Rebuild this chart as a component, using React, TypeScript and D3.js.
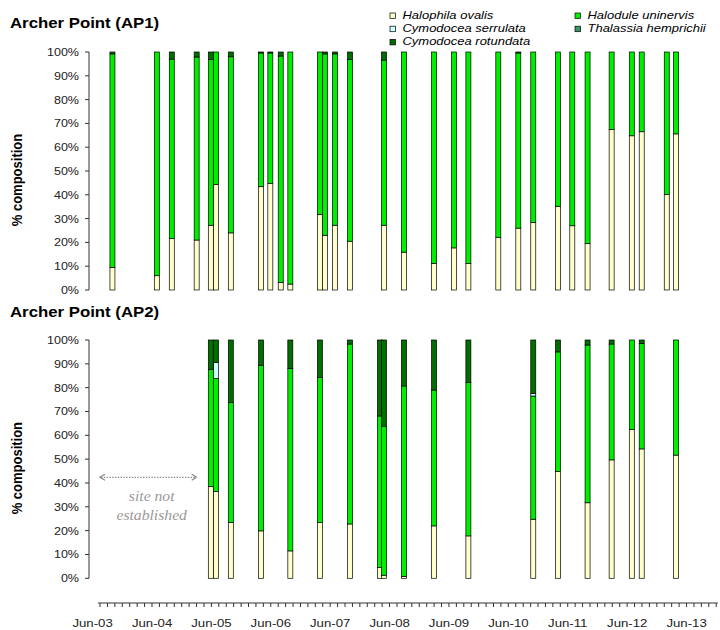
import React from "react";
import * as d3 from "d3";

// Species, stacked bottom to top
const speciesKeys = ["ovalis", "uninervis", "serrulata", "thalassia", "rotundata"];
const speciesNames: Record<string, string> = {
  ovalis: "Halophila ovalis",
  uninervis: "Halodule uninervis",
  serrulata: "Cymodocea serrulata",
  thalassia: "Thalassia hemprichii",
  rotundata: "Cymodocea rotundata",
};
const speciesColors: Record<string, string> = {
  ovalis: "#FFFFCC",
  uninervis: "#00EE00",
  serrulata: "#CCFFFF",
  thalassia: "#339966",
  rotundata: "#006E00",
};

// Archer Point (AP1)
const ap1Dates = [
  "2003-10-01", "2004-06-30", "2004-09-30", "2005-03-02", "2005-05-28", "2005-06-29",
  "2005-09-28", "2006-04-02", "2006-05-29", "2006-08-01", "2006-09-29", "2007-03-30",
  "2007-04-30", "2007-07-01", "2007-10-01", "2008-04-27", "2008-08-28", "2009-03-01",
  "2009-07-02", "2009-09-28", "2010-03-31", "2010-08-01", "2010-11-01", "2011-04-02",
  "2011-06-29", "2011-10-01", "2012-02-26", "2012-06-29", "2012-08-29", "2013-01-30",
  "2013-03-28",
];
const ap1Ovalis = [9.5, 6, 21.6, 21, 27.2, 44.4, 24, 43.4, 44.7, 3.2, 2.5, 31.8, 23, 27.2, 20.5, 27.2, 15.9, 11.2, 17.7, 11.2, 22, 26, 28.4, 35.2, 27, 19.6, 67.5, 64.8, 66.5, 40.2, 65.6];
const ap1Uninervis = [89.7, 94, 75.4, 76.9, 69.6, 55.6, 74, 56.2, 54.9, 95.1, 97.5, 68.2, 76.2, 72, 76.4, 69.4, 84.1, 88.8, 82.3, 88.8, 78, 73.6, 71.6, 64.8, 73, 80.4, 32.5, 35.2, 33.5, 59.8, 34.4];
const ap1Serrulata = [0, 0, 0, 0, 0, 0, 0, 0, 0, 0, 0, 0, 0, 0, 0, 0, 0, 0, 0, 0, 0, 0, 0, 0, 0, 0, 0, 0, 0, 0, 0];
const ap1Thalassia = [0, 0, 0, 0, 0, 0, 0, 0, 0, 0, 0, 0, 0, 0, 0, 0, 0, 0, 0, 0, 0, 0, 0, 0, 0, 0, 0, 0, 0, 0, 0];
const ap1Rotundata = [0.8, 0, 3, 2.1, 3.2, 0, 2, 0.4, 0.4, 1.7, 0, 0, 0.8, 0.8, 3.1, 3.4, 0, 0, 0, 0, 0, 0.4, 0, 0, 0, 0, 0, 0, 0, 0, 0];

// Archer Point (AP2)
const ap2Dates = [
  "2005-05-28", "2005-06-29", "2005-09-28", "2006-04-02", "2006-09-29", "2007-03-30",
  "2007-10-01", "2008-04-02", "2008-04-27", "2008-08-28", "2009-03-01", "2009-09-28",
  "2010-11-01", "2011-04-02", "2011-10-01", "2012-02-26", "2012-06-29", "2012-08-29",
  "2013-03-28",
];
const ap2Ovalis = [38.5, 36.4, 23.4, 19.9, 11.5, 23.4, 22.8, 4.6, 1.3, 0.8, 22, 17.8, 24.8, 44.8, 31.7, 49.7, 62.5, 54.3, 51.7];
const ap2Uninervis = [49.2, 47.5, 50.4, 69.5, 76.6, 60.9, 75.5, 63.5, 62.5, 79.9, 57, 64.4, 51.7, 50.2, 66.2, 48.6, 37.5, 44.3, 48.3];
const ap2Serrulata = [0, 6.6, 0, 0, 0, 0, 0, 0, 0, 0, 0, 0, 1.1, 0, 0, 0, 0, 0, 0];
const ap2Thalassia = [0, 0, 0, 0, 0, 0, 0, 0, 0, 0, 0, 0, 0, 0, 0, 0, 0, 0, 0];
const ap2Rotundata = [12.3, 9.5, 26.2, 10.6, 11.9, 15.7, 1.7, 31.9, 36.2, 19.3, 21, 17.8, 22.4, 5, 2.1, 1.7, 0, 1.4, 0];

// Axis labels
const yTickValues = [0, 10, 20, 30, 40, 50, 60, 70, 80, 90, 100];
const xLabelYears = [2003, 2004, 2005, 2006, 2007, 2008, 2009, 2010, 2011, 2012, 2013];

const parseDate = d3.timeParse("%Y-%m-%d");
const W = 720;
const H = 630;
const SX = 1.12; // horizontal text stretch
const SANS = "'Liberation Sans', Arial, Helvetica, sans-serif";

type Row = { date: Date; [k: string]: any };

function buildRows(dates: string[], series: Record<string, number[]>): Row[] {
  return dates.map((ds, i) => {
    const r: Row = { date: parseDate(ds) as Date };
    speciesKeys.forEach((k) => (r[k] = series[k][i]));
    return r;
  });
}

const ap1Rows = buildRows(ap1Dates, {
  ovalis: ap1Ovalis, uninervis: ap1Uninervis, serrulata: ap1Serrulata,
  thalassia: ap1Thalassia, rotundata: ap1Rotundata,
});
const ap2Rows = buildRows(ap2Dates, {
  ovalis: ap2Ovalis, uninervis: ap2Uninervis, serrulata: ap2Serrulata,
  thalassia: ap2Thalassia, rotundata: ap2Rotundata,
});

const x = d3
  .scaleTime()
  .domain([new Date(2003, 5, 1), new Date(2013, 5, 1)])
  .range([92.6, 686.6]);

const AXIS_X = 89;
const BAR_W = 5;

function STxt(props: {
  x: number; y: number; children: React.ReactNode; anchor?: string;
  size: number; weight?: string; italic?: boolean; fill?: string; family?: string; rotate?: number;
}) {
  const { x: tx, y: ty, children, anchor = "start", size, weight = "normal", italic, fill = "#000", family = SANS, rotate } = props;
  const tr = `translate(${tx},${ty}) scale(${SX},1)${rotate ? ` rotate(${rotate})` : ""}`;
  return (
    <text
      transform={tr}
      textAnchor={anchor}
      fontSize={size}
      fontWeight={weight}
      fontStyle={italic ? "italic" : "normal"}
      fontFamily={family}
      fill={fill}
    >
      {children}
    </text>
  );
}

function Panel(props: { rows: Row[]; top: number; bottom: number; title: string; titleY: number }) {
  const { rows, top, bottom, title, titleY } = props;
  const y = d3.scaleLinear().domain([0, 100]).range([bottom, top]);
  const stacked = d3.stack<Row>().keys(speciesKeys)(rows);
  return (
    <g>
      <STxt x={10} y={titleY} size={15} weight="bold">{title}</STxt>
      <STxt x={22} y={(top + bottom) / 2 + 9} size={13} weight="bold" anchor="middle" rotate={-90}>
        % composition
      </STxt>
      <line x1={AXIS_X} x2={AXIS_X} y1={y(0)} y2={y(100)} stroke="#333" strokeWidth={1} />
      {yTickValues.map((t) => (
        <g key={t}>
          <line x1={AXIS_X - 4} x2={AXIS_X} y1={y(t)} y2={y(t)} stroke="#333" strokeWidth={1} />
          <STxt x={79} y={y(t) + 4} size={11.2} anchor="end" fill="#222">{`${t}%`}</STxt>
        </g>
      ))}
      {stacked.map((s) => (
        <g key={s.key} fill={speciesColors[s.key]}>
          {s.map((d, i) => {
            const h = y(d[0]) - y(d[1]);
            if (h <= 0) return null;
            return (
              <rect
                key={i}
                x={x(d.data.date) - BAR_W / 2}
                y={y(d[1])}
                width={BAR_W}
                height={h}
                stroke="#000"
                strokeWidth={0.7}
              />
            );
          })}
        </g>
      ))}
    </g>
  );
}

function Legend() {
  const items = [
    { k: "ovalis", col: 0, row: 0 },
    { k: "uninervis", col: 1, row: 0 },
    { k: "serrulata", col: 0, row: 1 },
    { k: "thalassia", col: 1, row: 1 },
    { k: "rotundata", col: 0, row: 2 },
  ];
  const colX = [390, 575];
  const rowY = [19, 32.2, 45.4];
  return (
    <g>
      {items.map((it) => (
        <g key={it.k}>
          <rect
            x={colX[it.col]}
            y={rowY[it.row] - 6}
            width={5.5}
            height={5.5}
            fill={speciesColors[it.k]}
            stroke="#000"
            strokeWidth={0.7}
          />
          <STxt x={colX[it.col] + 12.5} y={rowY[it.row]} size={11.6} italic>
            {speciesNames[it.k]}
          </STxt>
        </g>
      ))}
    </g>
  );
}

function XAxis() {
  const axisY = 603;
  const start = new Date(2003, 6, 4);
  const end = new Date(2013, 11, 10);
  const base = new Date(2003, 5, 1).getTime();
  const step = (365.25 / 8) * 24 * 3600 * 1000;
  const ticks = d3
    .range(0, 90)
    .map((k) => new Date(base + k * step))
    .filter((d) => d > start && d <= end);
  return (
    <g>
      <line x1={x(start)} x2={x(end)} y1={axisY} y2={axisY} stroke="#333" strokeWidth={1} />
      {ticks.map((d, i) => (
        <line key={i} x1={x(d)} x2={x(d)} y1={axisY} y2={axisY + 4} stroke="#333" strokeWidth={1} />
      ))}
      {xLabelYears.map((yr) => (
        <STxt key={yr} x={x(new Date(yr, 5, 1))} y={627} size={11.8} anchor="middle" fill="#222">
          {`Jun-${String(yr % 100).padStart(2, "0")}`}
        </STxt>
      ))}
    </g>
  );
}

function SiteNote() {
  const y = 477.3;
  const x1 = 100;
  const x2 = 196.7;
  const grey = "#8a8a8a";
  return (
    <g>
      <line x1={x1 + 1} x2={x2 - 1} y1={y} y2={y} stroke={grey} strokeWidth={1.3} strokeDasharray="1.4,1.4" />
      <path d={`M${x1 + 5},${y - 3} L${x1},${y} L${x1 + 5},${y + 3}`} fill="none" stroke={grey} strokeWidth={1.3} />
      <path d={`M${x2 - 5},${y - 3} L${x2},${y} L${x2 + 0},${y} M${x2},${y} L${x2 - 5},${y + 3}`} fill="none" stroke={grey} strokeWidth={1.3} />
      <STxt x={151.7} y={500.5} size={14} italic anchor="middle" fill="#999" family="'Liberation Serif', 'Times New Roman', serif">
        site not
      </STxt>
      <STxt x={151.7} y={520} size={14} italic anchor="middle" fill="#999" family="'Liberation Serif', 'Times New Roman', serif">
        established
      </STxt>
    </g>
  );
}

export default function App() {
  return (
    <svg
      width={W}
      height={H}
      viewBox={`0 0 ${W} ${H}`}
      style={{ position: "absolute", left: 0, top: 0, background: "#fff" }}
    >
      <rect width={W} height={H} fill="#fff" />
      <Legend />
      <Panel rows={ap1Rows} top={52} bottom={290} title="Archer Point (AP1)" titleY={28.3} />
      <Panel rows={ap2Rows} top={340} bottom={578.3} title="Archer Point (AP2)" titleY={316.7} />
      <SiteNote />
      <XAxis />
    </svg>
  );
}
